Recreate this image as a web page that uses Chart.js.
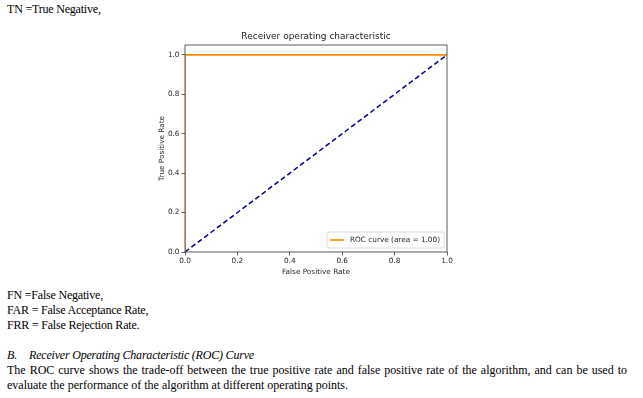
<!DOCTYPE html>
<html>
<head>
<meta charset="utf-8">
<script src="https://cdn.jsdelivr.net/npm/chart.js@4.4.1/dist/chart.umd.min.js"></script>
<style>
  html, body { margin: 0; padding: 0; background: #fff; }
  body { width: 643px; height: 398px; position: relative; overflow: hidden;
         font-family: "Liberation Serif", "Times New Roman", serif; font-size: 12px; color: #000; }
  .txt { position: absolute; left: 7px; line-height: 15px; white-space: nowrap; letter-spacing: -0.2px; }
  .just { white-space: normal; width: 620px; text-align: justify; text-align-last: justify; letter-spacing: 0; }
  .sec { display: inline-block; width: 22px; font-style: italic; }
  #plot { position: absolute; left: 140px; top: 25px; width: 320px; height: 260px; }
</style>
</head>
<body>
<div class="txt" style="top:2px">TN =True Negative,</div>

<div id="plot"><canvas id="rocChart"></canvas></div>

<div class="txt" style="top:288px">FN =False Negative,<br>FAR = False Acceptance Rate,<br>FRR = False Rejection Rate.</div>

<div class="txt" style="top:348px"><span class="sec">B.</span><i>Receiver Operating Characteristic (ROC) Curve</i></div>
<div class="txt just" style="top:363px">The ROC curve shows the trade-off between the true positive rate and false positive rate of the algorithm, and can be used to</div>
<div class="txt" style="top:378px; letter-spacing:0">evaluate the performance of the algorithm at different operating points.</div>

<script>
// ROC points
const rocFpr = [0, 0, 1];
const rocTpr = [0, 1, 1];
const rocArea = 1.00;
// chance line
const chanceFpr = [0, 1];
const chanceTpr = [0, 1];
// tick labels
const xTicks = [0, 0.2, 0.4, 0.6, 0.8, 1.0];
const yTicks = [0, 0.2, 0.4, 0.6, 0.8, 1.0];

const smallFont = { family: 'DejaVu Sans', size: 7.3 };
const inkColor = '#262626';

// full frame round the axes, like matplotlib spines
const boxPlugin = {
    id: 'axesBox',
    afterDatasetsDraw(chart) {
        const a = chart.chartArea;
        const ctx = chart.ctx;
        ctx.save();
        ctx.strokeStyle = '#333';
        ctx.lineWidth = 0.8;
        ctx.strokeRect(a.left, a.top, a.right - a.left, a.bottom - a.top);
        ctx.restore();
    }
};

// legend drawn inside the plot, lower right
const innerLegend = {
    id: 'innerLegend',
    afterDraw(chart) {
        const a = chart.chartArea;
        const ctx = chart.ctx;
        const ds = chart.data.datasets[0];
        ctx.save();
        ctx.font = smallFont.size + 'px ' + smallFont.family;
        const tw = ctx.measureText(ds.label).width;
        const h = 16, pad = 3, handle = 14, gap = 6;
        const w = pad + handle + gap + tw + 4;
        const right = a.right - 3, bottom = a.bottom - 4;
        const left = right - w, top = bottom - h;
        ctx.beginPath();
        if (ctx.roundRect) ctx.roundRect(left, top, w, h, 2);
        else ctx.rect(left, top, w, h);
        ctx.fillStyle = 'rgba(255,255,255,0.8)';
        ctx.fill();
        ctx.strokeStyle = '#d0d0d0';
        ctx.lineWidth = 0.8;
        ctx.stroke();
        const cy = top + h / 2;
        ctx.beginPath();
        ctx.moveTo(left + pad, cy);
        ctx.lineTo(left + pad + handle, cy);
        ctx.strokeStyle = ds.borderColor;
        ctx.lineWidth = ds.borderWidth;
        ctx.stroke();
        ctx.fillStyle = inkColor;
        ctx.textBaseline = 'middle';
        ctx.fillText(ds.label, left + pad + handle + gap, cy + 0.5);
        ctx.restore();
    }
};

const ctx = document.getElementById('rocChart').getContext('2d');
new Chart(ctx, {
    type: 'scatter',
    data: {
        datasets: [{
            label: 'ROC curve (area = ' + rocArea.toFixed(2) + ')',
            data: rocFpr.map((x, i) => ({ x: x, y: rocTpr[i] })),
            showLine: true,
            borderColor: '#ff8c00',
            borderWidth: 1.6,
            pointRadius: 0,
            tension: 0
        }, {
            label: 'chance',
            data: chanceFpr.map((x, i) => ({ x: x, y: chanceTpr[i] })),
            showLine: true,
            borderColor: '#000080',
            borderWidth: 1.5,
            borderDash: [5, 3],
            pointRadius: 0,
            tension: 0
        }]
    },
    options: {
        responsive: true,
        maintainAspectRatio: false,
        animation: false,
        devicePixelRatio: 1,
        layout: { padding: { left: 0, top: 0, right: 13, bottom: 0 } },
        plugins: {
            legend: { display: false },
            tooltip: { enabled: false },
            title: {
                display: true,
                text: 'Receiver operating characteristic',
                fullSize: false,
                color: '#222',
                font: { family: 'DejaVu Sans', size: 9, weight: 'normal' },
                padding: { top: 6.3, bottom: 2.9 }
            }
        },
        scales: {
            x: {
                type: 'linear',
                min: 0,
                max: 1,
                afterFit: s => { s.height = 33; },
                afterBuildTicks: s => { s.ticks = xTicks.map(v => ({ value: v })); },
                ticks: {
                    color: inkColor,
                    font: smallFont,
                    padding: 1,
                    maxRotation: 0,
                    callback: v => Number(v).toFixed(1)
                },
                grid: { display: true, drawOnChartArea: false, drawTicks: true, tickLength: 3.5, color: '#333', lineWidth: 0.8 },
                border: { display: false },
                title: { display: true, text: 'False Positive Rate', color: inkColor, font: smallFont, padding: { top: 0, bottom: 8.2 } }
            },
            y: {
                type: 'linear',
                min: 0,
                max: 1.05,
                afterFit: s => { s.width = 45; },
                afterBuildTicks: s => { s.ticks = yTicks.map(v => ({ value: v })); },
                ticks: {
                    color: inkColor,
                    font: smallFont,
                    padding: 2,
                    callback: v => Number(v).toFixed(1)
                },
                grid: { display: true, drawOnChartArea: false, drawTicks: true, tickLength: 3.5, color: '#333', lineWidth: 0.8 },
                border: { display: false },
                title: { display: true, text: 'True Positive Rate', color: inkColor, font: smallFont, padding: { top: 17.5, bottom: 0 } }
            }
        }
    },
    plugins: [boxPlugin, innerLegend]
});
</script>
</body>
</html>
